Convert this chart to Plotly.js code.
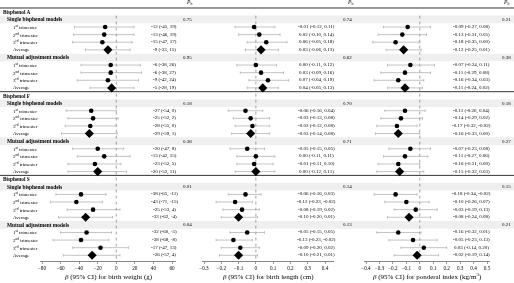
<!DOCTYPE html>
<html><head><meta charset="utf-8">
<script src="https://cdn.plot.ly/plotly-3.0.1.min.js"></script>
<style>html,body{margin:0;padding:0;background:#fff}#chart{width:514px;height:283px;will-change:transform;-webkit-font-smoothing:antialiased}</style>
</head><body><div id="chart"></div>
<script>
const bisphenols = ["Bisphenol A","Bisphenol F","Bisphenol S"];
const models = ["Single bisphenol models","Mutual adjustment models"];
const windows = ["1<sup>st</sup> trimester","2<sup>nd</sup> trimester","3<sup>rd</sup> trimester","Average"];

// birth weight (g)
const bwEst = [-12,-13,-15,-9, -6,-6,-9,-5, -27,-25,-28,-29, -20,-13,-23,-20, -38,-43,-25,-33, -32,-38,-17,-26];
const bwLo  = [-45,-46,-47,-33, -38,-38,-42,-28, -54,-52,-55,-59, -47,-42,-52,-52, -65,-71,-53,-62, -60,-68,-47,-57];
const bwHi  = [19,19,17,15, 26,27,24,19, 0,2,0,1, 8,15,5,11, -11,-15,4,-4, -5,-8,13,4];
const bwP   = [0.75,0.95,0.18,0.38,0.01,0.04];

// birth length (cm)
const blEst = [-0.01,0.02,0.06,0.03, 0.00,0.03,0.07,0.04, -0.06,-0.03,-0.02,-0.03, -0.05,0.00,-0.01,0.00, -0.06,-0.12,-0.08,-0.10, -0.05,-0.13,-0.09,-0.10];
const blLo  = [-0.12,-0.10,-0.05,-0.06, -0.11,-0.09,-0.04,-0.05, -0.16,-0.13,-0.12,-0.14, -0.15,-0.11,-0.11,-0.12, -0.16,-0.23,-0.19,-0.20, -0.15,-0.23,-0.20,-0.21];
const blHi  = [0.11,0.14,0.18,0.13, 0.12,0.16,0.19,0.13, 0.04,0.08,0.08,0.08, 0.05,0.11,0.10,0.11, 0.03,-0.02,0.02,0.01, 0.05,-0.02,0.02,0.01];
const blP   = [0.74,0.62,0.70,0.71,0.14,0.13];

// ponderal index (kg/m3)
const piEst = [-0.09,-0.13,-0.18,-0.12, -0.07,-0.11,-0.16,-0.11, -0.11,-0.14,-0.17,-0.16, -0.07,-0.11,-0.16,-0.15, -0.18,-0.10,-0.03,-0.08, -0.16,-0.05,0.03,-0.02];
const piLo  = [-0.27,-0.31,-0.35,-0.25, -0.24,-0.29,-0.34,-0.24, -0.26,-0.29,-0.32,-0.33, -0.23,-0.27,-0.31,-0.32, -0.34,-0.26,-0.19,-0.24, -0.32,-0.23,-0.14,-0.19];
const piHi  = [0.08,0.05,0.00,0.01, 0.11,0.08,0.03,0.02, 0.04,0.02,-0.02,0.00, 0.08,0.06,0.00,0.03, -0.02,0.07,0.13,0.08, 0.01,0.13,0.20,0.14];
const piP   = [0.21,0.38,0.18,0.27,0.15,0.21];

const bwTicks = [-80,-60,-40,-20,0,20,40,60];
const blTicks = [-0.3,-0.2,-0.1,0,0.1,0.2,0.3,0.4];
const piTicks = [-0.4,-0.3,-0.2,-0.1,0,0.1,0.2,0.3,0.4,0.5];
const axisTitles = ["<i>β</i> (95% CI) for birth weight (g)",
                    "<i>β</i> (95% CI) for birth length (cm)",
                    "<i>β</i> (95% CI) for ponderal index (kg/m<sup>3</sup>)"];
const pHeader = "<i>P</i><sub>h</sub>";

// ---------- layout geometry ----------
const W = 514, PH = 261;
const rowTop = -1.55, rowBot = 32.75;
const FONT = "Liberation Serif, Times New Roman, serif";
const fx = v => v / W;
const rowOf = (b, m, w) => b * 11 + 1 + m * 5 + (w === undefined ? 0 : 1 + w);
const f = (size) => ({family: FONT, size: size, color: "#000000"});

const panels = [
  {est: bwEst, lo: bwLo, hi: bwHi, p: bwP, ticks: bwTicks, dom: [40, 176], v0: -80, p0: 42, v1: 60, p1: 172, dec: 0, estX: 164, pX: 187, hX: 189},
  {est: blEst, lo: blLo, hi: blHi, p: blP, ticks: blTicks, dom: [202, 334], v0: -0.3, p0: 204, v1: 0.4, p1: 325, dec: 2, estX: 316, pX: 347, hX: 350},
  {est: piEst, lo: piLo, hi: piHi, p: piP, ticks: piTicks, dom: [364, 490], v0: -0.4, p0: 366, v1: 0.5, p1: 487, dec: 2, estX: 471.5, pX: 506.5, hX: 506}
];

const fmt = (v, d) => d === 0 ? String(Math.round(v)) : v.toFixed(d);

const traces = [];
const shapes = [];
const annotations = [];
const layout = {
  width: W, height: 283,
  margin: {l: 0, r: 0, t: 0, b: 283 - PH, pad: 0},
  paper_bgcolor: "#ffffff", plot_bgcolor: "rgba(0,0,0,0)",
  showlegend: false,
  font: {family: FONT, color: "#000000", size: 5},
  yaxis: {range: [rowBot, rowTop], visible: false, domain: [0, 1], fixedrange: true},
  shapes: shapes, annotations: annotations
};

const addText = (x, xref, y, yref, text, size, anchor) => annotations.push({
  xref: xref, yref: yref, x: x, y: y, text: text, showarrow: false,
  xanchor: anchor, yanchor: "middle", font: f(size), bgcolor: "rgba(0,0,0,0)", borderpad: 0
});

// gray bands + bisphenol separator lines + row labels
bisphenols.forEach((bn, b) => {
  const r0 = rowOf(b, 0) - 1;
  shapes.push({type: "line", xref: "paper", yref: "y", x0: 0, x1: 1, y0: r0 - 0.5, y1: r0 - 0.5, line: {color: "#000", width: 0.8}, layer: "above"});
  addText(fx(2), "paper", r0, "y", "<b>" + bn + "</b>", 5.3, "left");
  models.forEach((mn, m) => {
    const r = rowOf(b, m);
    shapes.push({type: "rect", xref: "paper", yref: "y", x0: 0, x1: 1, y0: r - 0.5, y1: r + 0.5, fillcolor: "#efefef", line: {width: 0}, layer: "below"});
    addText(fx(5.5), "paper", r, "y", "<b>" + mn + "</b>", 5.4, "left");
    windows.forEach((wn, w) => addText(fx(12), "paper", rowOf(b, m, w), "y", wn, 5, "left"));
  });
});

panels.forEach((P, k) => {
  const ax = k === 0 ? "x" : "x" + (k + 1);
  const axName = k === 0 ? "xaxis" : "xaxis" + (k + 1);
  const scale = (P.p1 - P.p0) / (P.v1 - P.v0);
  const range = [P.v0 + (P.dom[0] - P.p0) / scale, P.v0 + (P.dom[1] - P.p0) / scale];
  layout[axName] = {
    domain: [fx(P.dom[0]), fx(P.dom[1])], range: range, anchor: "y",
    tickvals: P.ticks, ticks: "outside", ticklen: 2, tickwidth: 0.6, tickcolor: "#555",
    showline: true, linecolor: "#555", linewidth: 0.7, showgrid: false, zeroline: false,
    tickfont: f(5.2), fixedrange: true
  };
  // zero reference line
  shapes.push({type: "line", xref: ax, yref: "y", x0: 0, x1: 0, y0: 0.5, y1: rowBot, line: {color: "#666", width: 0.6, dash: "dot"}, layer: "below"});

  const circ = {x: [], y: [], plus: [], minus: []};
  const diam = {x: [], y: [], plus: [], minus: []};
  bisphenols.forEach((bn, b) => {
    models.forEach((mn, m) => {
      const g = b * 2 + m;
      addText(fx(P.pX), "paper", rowOf(b, m), "y", P.p[g].toFixed(2), 5, "center");
      windows.forEach((wn, w) => {
        const i = g * 4 + w;
        const tgt = w === 3 ? diam : circ;
        tgt.x.push(P.est[i]); tgt.y.push(rowOf(b, m, w));
        tgt.plus.push(P.hi[i] - P.est[i]); tgt.minus.push(P.est[i] - P.lo[i]);
        addText(fx(P.estX), "paper", rowOf(b, m, w), "y",
          fmt(P.est[i], P.dec) + " (" + fmt(P.lo[i], P.dec) + ", " + fmt(P.hi[i], P.dec) + ")", 5, "center");
      });
    });
  });
  [[circ, "circle", 4.6], [diam, "diamond", 7]].forEach(([d, sym, sz]) => {
    traces.push({type: "scatter", mode: "markers", xaxis: ax, yaxis: "y", x: d.x, y: d.y,
      marker: {symbol: sym, size: sz, color: "#000", line: {width: 0}},
      error_x: {type: "data", symmetric: false, array: d.plus, arrayminus: d.minus, color: "#9a9a9a", thickness: 0.6, width: 1.3},
      hoverinfo: "skip", cliponaxis: false});
  });
  // header and axis title
  addText(fx(P.hX), "paper", 1 - 3 / PH, "paper", pHeader, 5.5, "center");
  addText(fx((P.dom[0] + P.dom[1]) / 2), "paper", -(276.5 - PH) / PH, "paper", axisTitles[k], 7, "center");
});

Plotly.newPlot("chart", traces, layout, {staticPlot: true, displayModeBar: false});
</script>
</body></html>
